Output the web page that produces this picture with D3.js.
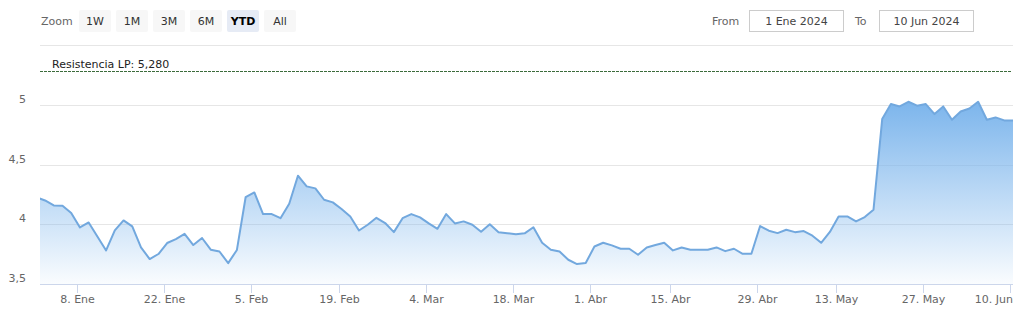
<!DOCTYPE html>
<html>
<head>
<meta charset="utf-8">
<script src="https://cdnjs.cloudflare.com/ajax/libs/d3/7.8.5/d3.min.js"></script>
<style>
body { margin:0; background:#fff; }
svg { font-family: "DejaVu Sans", Verdana, sans-serif; }
.grid-line { stroke:#e6e6e6; stroke-width:1; }
.axis-line { stroke:#ccd6eb; stroke-width:1; }
.axis-text { fill:#666; font-size:11px; }
.btn-rect { fill:#f7f7f7; }
.btn-select { fill:#e6ebf5; }
.btn-text { fill:#333; font-size:11px; }
.btn-text-select { fill:#000; font-size:11px; font-weight:bold; }
.input-rect { fill:#fff; stroke:#ccc; stroke-width:1; }
</style>
</head>
<body>
<svg width="1022" height="320"></svg>
<script>
// trading days shown (ordinal axis, weekends + holidays skipped)
var tradingDays = [
  '2023-12-29',
  '2024-01-02','2024-01-03','2024-01-04','2024-01-05',
  '2024-01-08','2024-01-09','2024-01-10','2024-01-11','2024-01-12',
  '2024-01-15','2024-01-16','2024-01-17','2024-01-18','2024-01-19',
  '2024-01-22','2024-01-23','2024-01-24','2024-01-25','2024-01-26',
  '2024-01-29','2024-01-30','2024-01-31','2024-02-01','2024-02-02',
  '2024-02-05','2024-02-06','2024-02-07','2024-02-08','2024-02-09',
  '2024-02-12','2024-02-13','2024-02-14','2024-02-15','2024-02-16',
  '2024-02-19','2024-02-20','2024-02-21','2024-02-22','2024-02-23',
  '2024-02-26','2024-02-27','2024-02-28','2024-02-29','2024-03-01',
  '2024-03-04','2024-03-05','2024-03-06','2024-03-07','2024-03-08',
  '2024-03-11','2024-03-12','2024-03-13','2024-03-14','2024-03-15',
  '2024-03-18','2024-03-19','2024-03-20','2024-03-21','2024-03-22',
  '2024-03-25','2024-03-26','2024-03-27','2024-03-28',
  '2024-04-02','2024-04-03','2024-04-04','2024-04-05',
  '2024-04-08','2024-04-09','2024-04-10','2024-04-11','2024-04-12',
  '2024-04-15','2024-04-16','2024-04-17','2024-04-18','2024-04-19',
  '2024-04-22','2024-04-23','2024-04-24','2024-04-25','2024-04-26',
  '2024-04-29','2024-04-30','2024-05-02','2024-05-03',
  '2024-05-06','2024-05-07','2024-05-08','2024-05-09','2024-05-10',
  '2024-05-13','2024-05-14','2024-05-15','2024-05-16','2024-05-17',
  '2024-05-20','2024-05-21','2024-05-22','2024-05-23','2024-05-24',
  '2024-05-27','2024-05-28','2024-05-29','2024-05-30','2024-05-31',
  '2024-06-03','2024-06-04','2024-06-05','2024-06-06','2024-06-07',
  '2024-06-10'
];

var prices = [
  4.225,
  4.199, 4.157, 4.155, 4.094,
  3.973, 4.015, 3.898, 3.781, 3.948,
  4.032, 3.982, 3.806, 3.709, 3.751,
  3.843, 3.876, 3.920, 3.826, 3.885,
  3.787, 3.772, 3.675, 3.785, 4.226,
  4.266, 4.085, 4.085, 4.051, 4.172,
  4.406, 4.317, 4.300, 4.205, 4.183,
  4.127, 4.065, 3.948, 3.996, 4.054,
  4.010, 3.934, 4.051, 4.085, 4.057,
  4.007, 3.962, 4.085, 4.007, 4.024,
  3.996, 3.937, 4.000, 3.934, 3.925,
  3.916, 3.924, 3.975, 3.846, 3.787,
  3.772, 3.703, 3.667, 3.675,
  3.814, 3.845, 3.823, 3.795,
  3.795, 3.745, 3.806, 3.826, 3.845,
  3.781, 3.806, 3.786, 3.786, 3.786,
  3.806, 3.775, 3.795, 3.753, 3.753,
  3.985, 3.946, 3.926, 3.954,
  3.934, 3.943, 3.904, 3.845, 3.936,
  4.065, 4.065, 4.024, 4.060, 4.121,
  4.880, 5.006, 4.986, 5.025, 4.992,
  5.006, 4.922, 4.986, 4.874, 4.944,
  4.969, 5.025, 4.874, 4.894, 4.869,
  4.869
];

var tickDays = ['2024-01-08','2024-01-22','2024-02-05','2024-02-19','2024-03-04','2024-03-18',
                '2024-04-01','2024-04-15','2024-04-29','2024-05-13','2024-05-27','2024-06-10'];
var monthNames = ['Ene','Feb','Mar','Abr','May','Jun','Jul','Ago','Sep','Oct','Nov','Dic'];
var yTicks = [3.5, 4, 4.5, 5];
var yGrid = [4, 4.5, 5, 5.5];
var rangeButtons = ['1W','1M','3M','6M','YTD','All'];
var selectedButton = 'YTD';
var fromText = '1 Ene 2024', toText = '10 Jun 2024';
var resistance = 5.28, resistanceName = 'Resistencia LP';

var esLocale = d3.formatLocale({decimal: ',', thousands: '.', grouping: [3], currency: ['', ' €']});

function ChartView(){
}

ChartView.prototype.render = function(options){
	this.options = options;
	this.svg = d3.select('svg');
	this.firstIdx = 1; // index of 2 Jan in tradingDays
	this.x = d3.scaleLinear()
		.domain([this.firstIdx - 0.58, tradingDays.length - 1])
		.range([options.left, options.right]);
	this.y = d3.scaleLinear()
		.domain([3.5, 5.5])
		.range([options.bottom, options.top]);

	this.addRangeSelector();
	this.addGrid();
	this.addSeries();
	this.addResistance();
	this.addXAxis();
	this.addYAxis();
}

ChartView.prototype.addRangeSelector = function(){
	var g = this.svg.append('g').attr('class', 'range-selector');
	g.append('text').attr('x', 41).attr('y', 25).attr('class', 'btn-text')
		.style('fill', '#666').text('Zoom');

	rangeButtons.forEach(function(b, i){
		var sel = b == selectedButton;
		var bx = 79 + i * 37;
		g.append('rect').attr('x', bx).attr('y', 10).attr('width', 32).attr('height', 22)
			.attr('rx', 2).attr('class', sel ? 'btn-select' : 'btn-rect');
		g.append('text').attr('x', bx + 16).attr('y', 25).attr('text-anchor', 'middle')
			.attr('class', sel ? 'btn-text-select' : 'btn-text').text(b);
	});

	g.append('text').attr('x', 712).attr('y', 25).attr('class', 'btn-text').style('fill', '#666').text('From');
	this.addInput(g, 749.5, fromText);
	g.append('text').attr('x', 855).attr('y', 25).attr('class', 'btn-text').style('fill', '#666').text('To');
	this.addInput(g, 879.5, toText);
}

ChartView.prototype.addInput = function(g, x, text){
	g.append('rect').attr('x', x).attr('y', 10.5).attr('width', 94).attr('height', 21).attr('class', 'input-rect');
	g.append('text').attr('x', x + 47).attr('y', 25).attr('text-anchor', 'middle')
		.attr('class', 'btn-text').style('fill', '#444').text(text);
}

ChartView.prototype.addGrid = function(){
	var o = this.options, y = this.y;
	this.svg.append('g').selectAll('line').data(yGrid).enter().append('line')
		.attr('class', 'grid-line')
		.attr('x1', o.left).attr('x2', o.right)
		.attr('y1', function(d){ return Math.round(y(d)) + 0.5; })
		.attr('y2', function(d){ return Math.round(y(d)) + 0.5; });
}

ChartView.prototype.addSeries = function(){
	var o = this.options, x = this.x, y = this.y;
	var data = prices.map(function(p, i){ return {i: i, v: p}; });

	var defs = this.svg.append('defs');
	defs.append('clipPath').attr('id', 'plot-clip').append('rect')
		.attr('x', o.left).attr('y', o.top).attr('width', o.right - o.left).attr('height', o.bottom - o.top);
	var grad = defs.append('linearGradient').attr('id', 'area-grad')
		.attr('x1', 0).attr('y1', 0).attr('x2', 0).attr('y2', 1);
	grad.append('stop').attr('offset', 0).attr('stop-color', '#7cb5ec').attr('stop-opacity', 1);
	grad.append('stop').attr('offset', 1).attr('stop-color', '#7cb5ec').attr('stop-opacity', 0.04);

	var g = this.svg.append('g').attr('clip-path', 'url(#plot-clip)');
	var area = d3.area()
		.x(function(d){ return x(d.i); })
		.y0(y(3.5))
		.y1(function(d){ return y(d.v); });
	var line = d3.line()
		.x(function(d){ return x(d.i); })
		.y(function(d){ return y(d.v); });

	g.append('path').datum(data).attr('d', area).attr('fill', 'url(#area-grad)');
	g.append('path').datum(data).attr('d', line)
		.attr('fill', 'none').attr('stroke', '#72a8de').attr('stroke-width', 2)
		.attr('stroke-linejoin', 'round');
}

ChartView.prototype.addResistance = function(){
	var o = this.options;
	var ry = Math.round(this.y(resistance)) + 0.5;
	var g = this.svg.append('g').attr('class', 'plot-line');
	g.append('line').attr('x1', o.left).attr('x2', o.right - 1).attr('y1', ry).attr('y2', ry)
		.attr('stroke', '#3b6b3b').attr('stroke-width', 1).attr('stroke-dasharray', '3,1');
	g.append('text').attr('x', o.left + 12).attr('y', ry - 4)
		.style('font-size', '11px').style('fill', '#222')
		.text(resistanceName + ': ' + esLocale.format('.3f')(resistance));
}

ChartView.prototype.addXAxis = function(){
	var o = this.options, x = this.x;
	var tickPos = tickDays.map(function(d){
		var idx = tradingDays.indexOf(d);
		if(idx < 0) idx = d3.bisectLeft(tradingDays, d) - 0.15;
		return {day: d, pos: x(idx - 0.33)};
	});
	var g = this.svg.append('g').attr('class', 'x-axis');
	g.append('line').attr('class', 'axis-line')
		.attr('x1', o.left).attr('x2', o.right).attr('y1', o.bottom + 0.5).attr('y2', o.bottom + 0.5);
	var t = g.selectAll('.tick').data(tickPos).enter().append('g').attr('class', 'tick')
		.attr('transform', function(d){ return 'translate(' + (Math.round(d.pos) + 0.5) + ',0)'; });
	t.append('line').attr('class', 'axis-line').attr('y1', o.bottom).attr('y2', o.bottom + 9);
	t.append('text').attr('class', 'axis-text').attr('y', o.bottom + 19).attr('text-anchor', 'middle')
		.text(function(d){
			var dt = d3.timeParse('%Y-%m-%d')(d.day);
			return dt.getDate() + '. ' + monthNames[dt.getMonth()];
		})
		.each(function(d){
			// keep the last label inside the plot, like highstock does
			var w = this.getComputedTextLength();
			var px = Math.round(d.pos) + 0.5;
			if(px + w / 2 > o.right) d3.select(this).attr('x', o.right - w / 2 - px);
		});
}

ChartView.prototype.addYAxis = function(){
	var y = this.y;
	var fmt = esLocale.format('.2~f');
	this.svg.append('g').attr('class', 'y-axis').selectAll('text').data(yTicks).enter().append('text')
		.attr('class', 'axis-text').attr('x', 26).attr('text-anchor', 'end')
		.attr('y', function(d){ return y(d) - 2; })
		.text(function(d){ return fmt(d); });
}

new ChartView().render({left: 40, right: 1013, top: 45, bottom: 284});
</script>
</body>
</html>
